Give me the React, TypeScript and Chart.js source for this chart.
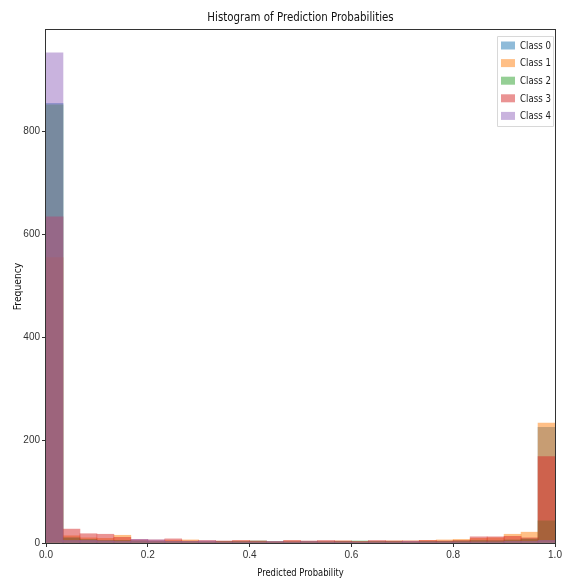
import React, { useEffect, useRef } from "react";
import { Chart, registerables } from "chart.js";

Chart.register(...registerables);

const binCount = 30;
const classNames = ["Class 0", "Class 1", "Class 2", "Class 3", "Class 4"];
const class0 = [855, 10, 6, 5, 5, 4, 3, 3, 2, 2, 2, 2, 2, 1, 2, 1, 2, 2, 1, 2, 2, 2, 3, 3, 3, 4, 5, 5, 7, 225];
const class1 = [555, 14, 10, 9, 15, 5, 4, 5, 6, 3, 3, 4, 3, 2, 4, 3, 3, 4, 3, 3, 4, 4, 5, 6, 7, 9, 10, 17, 21, 233];
const class2 = [852, 10, 7, 5, 5, 4, 3, 3, 3, 2, 3, 3, 4, 3, 2, 3, 2, 3, 4, 3, 3, 2, 3, 3, 4, 5, 4, 6, 8, 43];
const class3 = [634, 27, 18, 17, 11, 7, 6, 8, 4, 5, 4, 5, 4, 3, 5, 4, 5, 4, 3, 5, 4, 4, 5, 4, 5, 12, 12, 13, 10, 168];
const class4 = [953, 5, 5, 4, 3, 7, 6, 3, 3, 4, 2, 2, 2, 3, 2, 3, 2, 2, 2, 2, 2, 3, 2, 2, 2, 2, 2, 3, 3, 5];
const seriesValues = [class0, class1, class2, class3, class4];
const colors = [
  "rgba(31,119,180,0.5)",
  "rgba(255,127,14,0.5)",
  "rgba(44,160,44,0.5)",
  "rgba(214,39,40,0.5)",
  "rgba(148,103,189,0.5)",
];
const xTicks = [0, 0.2, 0.4, 0.6, 0.8, 1.0];
const yTicks = [0, 200, 400, 600, 800];

const titleText = "Histogram of Prediction Probabilities";
const xTitle = "Predicted Probability";
const yTitle = "Frequency";

const FONT = '"DejaVu Sans", sans-serif';
const TICKFONT = '"Liberation Sans", "DejaVu Sans", sans-serif';

function narrowText(ctx: any, text: string, x: number, y: number, sx: number) {
  ctx.save();
  ctx.translate(x, y);
  ctx.scale(sx, 1);
  ctx.fillText(text, 0, 0);
  ctx.restore();
}

const decorPlugin = {
  id: "decor",
  afterDatasetsDraw(chart: any) {
    const { ctx, chartArea } = chart;
    const { left, right, top, bottom } = chartArea;
    ctx.save();
    // spines
    ctx.strokeStyle = "#333";
    ctx.lineWidth = 1;
    ctx.strokeRect(Math.round(left) - 0.5, Math.round(top) - 0.5, Math.round(right - left) + 1, Math.round(bottom - top) + 1);

    // title
    ctx.fillStyle = "#111";
    ctx.textAlign = "center";
    ctx.textBaseline = "middle";
    ctx.font = `12.5px ${FONT}`;
    narrowText(ctx, titleText, (left + right) / 2, top - 12, 0.82);

    // x title
    ctx.font = `10px ${FONT}`;
    narrowText(ctx, xTitle, (left + right) / 2, bottom + 30, 0.84);

    // y title
    ctx.save();
    ctx.translate(18, (top + bottom) / 2);
    ctx.rotate(-Math.PI / 2);
    ctx.font = `10px ${FONT}`;
    narrowText(ctx, yTitle, 0, 0, 0.92);
    ctx.restore();

    // legend
    const bw = 56;
    const bx = right - 2 - bw;
    const by = top + 6;
    const rowH = 17.6;
    const bh = rowH * classNames.length + 2;
    ctx.fillStyle = "rgba(255,255,255,0.8)";
    ctx.strokeStyle = "#d8d8d8";
    ctx.lineWidth = 1;
    ctx.beginPath();
    ctx.rect(bx + 0.5, by + 0.5, bw, bh);
    ctx.fill();
    ctx.stroke();
    ctx.textAlign = "left";
    ctx.font = `10.5px ${FONT}`;
    classNames.forEach((name, i) => {
      const cy = by + 9.5 + i * rowH;
      ctx.fillStyle = colors[i];
      ctx.fillRect(bx + 4, cy - 4, 14, 8);
      ctx.fillStyle = "#222";
      narrowText(ctx, name, bx + 23, cy + 0.5, 0.82);
    });
    ctx.restore();
  },
};

export default function App() {
  const ref = useRef<HTMLCanvasElement | null>(null);
  useEffect(() => {
    document.body.style.margin = "0";
    const canvas = ref.current;
    if (!canvas) return;
    const datasets = seriesValues.map((vals, i) => ({
      label: classNames[i],
      data: vals.map((v, j) => ({ x: (j + 0.5) / binCount, y: v })),
      backgroundColor: colors[i],
      borderWidth: 0,
      order: classNames.length - 1 - i,
      barPercentage: 1,
      categoryPercentage: 1,
      grouped: false,
    }));
    const chart = new Chart(canvas, {
      type: "bar",
      data: { datasets } as any,
      options: {
        animation: false,
        responsive: false,
        devicePixelRatio: 1,
        layout: { padding: { top: 30, right: 11, left: 0, bottom: 0 } },
        plugins: {
          legend: { display: false },
          title: { display: false },
          tooltip: { enabled: false },
        },
        scales: {
          x: {
            type: "linear",
            min: 0,
            max: 1,
            offset: false,
            afterBuildTicks: (scale: any) => {
              scale.ticks = xTicks.map((v) => ({ value: v }));
            },
            afterFit: (scale: any) => {
              scale.height = 38;
            },
            ticks: {
              callback: (v: any) => Number(v).toFixed(1),
              font: { size: 10, family: TICKFONT },
              color: "#333",
              padding: 2,
              maxRotation: 0,
            },
            grid: {
              display: true,
              drawOnChartArea: false,
              drawTicks: true,
              tickLength: 4,
              color: "#333",
              offset: false,
            },
            border: { display: false },
          },
          y: {
            type: "linear",
            min: 0,
            max: 997.5,
            afterBuildTicks: (scale: any) => {
              scale.ticks = yTicks.map((v) => ({ value: v }));
            },
            afterFit: (scale: any) => {
              scale.width = 46;
            },
            ticks: {
              font: { size: 10, family: TICKFONT },
              color: "#333",
              padding: 2,
            },
            grid: {
              display: true,
              drawOnChartArea: false,
              drawTicks: true,
              tickLength: 4,
              color: "#333",
            },
            border: { display: false },
          },
        },
      },
      plugins: [decorPlugin],
    } as any);
    return () => chart.destroy();
  }, []);
  return (
    <div style={{ position: "absolute", left: 0, top: 0, width: 566, height: 581, background: "#fff" }}>
      <canvas ref={ref} width={566} height={581} style={{ width: 566, height: 581, display: "block" }} />
    </div>
  );
}
